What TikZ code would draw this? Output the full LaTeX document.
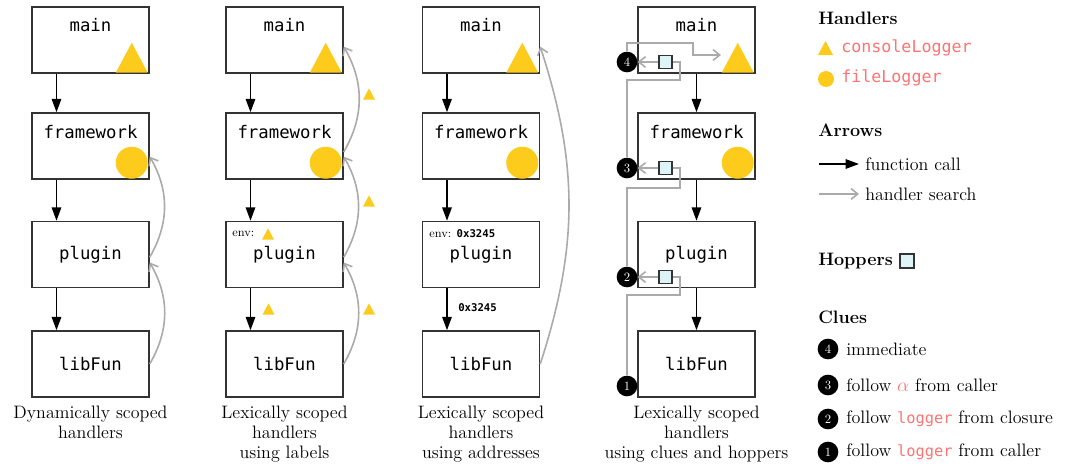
\documentclass[tikz,border=0pt]{standalone}
\usepackage{fontspec}
\setmonofont{DejaVu Sans Mono}
\usetikzlibrary{arrows.meta,calc}

\definecolor{hyellow}{HTML}{FCCB1B}
\definecolor{codepink}{HTML}{FF7373}
\definecolor{searchgray}{HTML}{AAAAAA}
\definecolor{hopfill}{HTML}{DDF3F5}
\definecolor{boxline}{HTML}{333333}

\newcommand\boxfont{\fontsize{13}{15}\selectfont\ttfamily}
\newcommand\legfont{\fontsize{13.5}{15}\selectfont}
\newcommand\addrfont{\fontsize{8}{9}\selectfont\ttfamily\bfseries}
\newcommand\code[2][12.5]{\textcolor{codepink}{\fontsize{#1}{15}\selectfont\texttt{#2}}}

\tikzset{
  fbox/.style={draw=boxline, line width=1.1pt, minimum width=87.75pt, minimum height=49.5pt, inner sep=0pt, font=\boxfont},
  boxtext/.style={inner sep=0pt, font=\boxfont},
  call/.style={-{Triangle[length=10pt,width=7pt]}, line width=1.4pt},
  search/.style={-{Straight Barb[length=5pt,width=8pt]}, draw=searchgray, line width=1.2pt},
  hline/.style={draw=searchgray, line width=1.2pt},
  clue/.style={circle, fill=black, text=white, inner sep=0pt, minimum size=15.5pt, font=\fontsize{9.5}{9.5}\selectfont},
  hopper/.style={draw=boxline, fill=hopfill, line width=0.8pt, inner sep=0pt, minimum size=9.75pt},
  captext/.style={align=center, font=\fontsize{13.5}{15}\selectfont, inner sep=0pt, anchor=north},
  leghead/.style={anchor=west, inner sep=0pt, font=\legfont\bfseries},
  legtext/.style={anchor=west, inner sep=0pt, font=\legfont},
  envtext/.style={anchor=west, inner sep=0pt, font=\fontsize{9}{10}\selectfont},
  handtri/.pic={\fill[hyellow] (-16,0) -- (16,0) -- (0,30) -- cycle;},
}

\begin{document}
\begin{tikzpicture}[x=0.75pt, y=0.75pt]
    \useasboundingbox (0,0) rectangle (1068,-471);

    % the four call stacks
    \foreach \c/\x/\o in {1/90.5/-34, 2/284.5/-34, 3/481/-34, 4/696.5/0} {
        \node[fbox] (main\c) at (\x,-40) {};
        \node[boxtext] at (\x,-25) {main};
        \node[fbox] (fw\c) at (\x,-146) {};
        \node[boxtext] at (\x,-132) {framework};
        \node[fbox] (plug\c) at (\x,-254.5) {plugin};
        \node[fbox] (lib\c) at (\x,-364) {libFun};

        \pic at ($(main\c.south east)+(-18,1)$) {handtri};
        \fill[hyellow] ($(fw\c.south east)+(-18,17)$) circle (16);

        \draw[call] ($(main\c.south)+(\o,0)$) -- ($(fw\c.north)+(\o,0)$);
        \draw[call] ($(fw\c.south)+(\o,0)$) -- ($(plug\c.north)+(\o,0)$);
        \draw[call] ($(plug\c.south)+(\o,0)$) -- ($(lib\c.north)+(\o,0)$);
    }

    % dynamic scope
    \draw[search] (lib1.east) to[out=60, in=-60] ([yshift=-6pt]plug1.east);
    \draw[search] ([yshift=-2pt]plug1.east) to[out=60, in=-60] ([yshift=-8pt]fw1.east);

    % labels
    \draw[search] (lib2.east) to[out=60, in=-60] ([yshift=-6pt]plug2.east);
    \draw[search] ([yshift=-2pt]plug2.east) to[out=60, in=-60] ([yshift=-8pt]fw2.east);
    \draw[search] ([yshift=-4.5pt]fw2.east) to[out=60, in=-60] ([yshift=-5pt]main2.east);
    \pic[scale=0.37] at (369,-99.5) {handtri};
    \pic[scale=0.37] at (369,-206.5) {handtri};
    \pic[scale=0.37] at (369,-314.5) {handtri};
    \pic[scale=0.37] at (268.5,-314.5) {handtri};
    \node[envtext] (env2) at (232,-234) {env:};
    \pic[scale=0.37] at (268,-239.5) {handtri};

    % addresses
    \draw[search] (lib3.east) to[out=72, in=-72] ([yshift=-5pt]main3.east);
    \node[envtext] (env3) at (429,-234) {env: {\addrfont 0x3245}};
    \node[envtext] (addr3) at (458,-308) {\addrfont 0x3245};

    % clues and hoppers
    \node[clue] (c1) at (627,-386) {1};
    \node[clue] (c2) at (627,-277) {2};
    \node[clue] (c3) at (627,-168) {3};
    \node[clue] (c4) at (627,-62) {4};
    \node[hopper] (h2) at (665.5,-277) {};
    \node[hopper] (h3) at (665.5,-168) {};
    \node[hopper] (h4) at (665.5,-62) {};
    \coordinate (tri4) at (721,-55);
    \draw[hline] (c1.north) |- (680,-295) |- (h2.east);
    \draw[search] (h2) -- (c2);
    \draw[hline] (c2.north) |- (680,-188) |- (h3.east);
    \draw[search] (h3) -- (c3);
    \draw[hline] (c3.north) |- (680,-80) |- (h4.east);
    \draw[search] (h4) -- (c4);
    \draw[search] (c4.north) |- (693,-43) |- (tri4);

    % captions
    \node[captext] (cap1) at (90.5,-406) {Dynamically scoped\\handlers};
    \node[captext] (cap2) at (284.5,-406) {Lexically scoped\\handlers\\using labels};
    \node[captext] (cap3) at (481,-406) {Lexically scoped\\handlers\\using addresses};
    \node[captext] (cap4) at (696.5,-406) {Lexically scoped\\handlers\\using clues and hoppers};

    % legend
    \node[leghead] (lhand) at (818,-18) {Handlers};
    \pic[scale=0.47] at (825.5,-55) {handtri};
    \node[legtext] (lcons) at (841,-48) {\code{consoleLogger}};
    \fill[hyellow] (826,-79) circle (8);
    \node[legtext] (lfile) at (841,-78) {\code{fileLogger}};

    \node[leghead] (larrows) at (818,-130) {Arrows};
    \coordinate (lcall0) at (819,-164);
    \node[legtext, inner xsep=4.5pt] (lcall) at (859,-164) {function call};
    \draw[call] (lcall0) -- (lcall.west);
    \coordinate (lsearch0) at (819,-194);
    \node[legtext, inner xsep=4.5pt] (lsearch) at (859,-194) {handler search};
    \draw[search] (lsearch0) -- (lsearch.west);

    \node[leghead] (lhop) at (818,-261) {Hoppers};
    \node[hopper, minimum size=10.5pt] (lhopbox) at (907,-261) {};

    \node[leghead] (lclues) at (818,-317) {Clues};
    \node[clue] (lc4) at (828,-349) {4};
    \node[legtext] (lt4) at (846,-349) {immediate};
    \node[clue] (lc3) at (828,-385) {3};
    \node[legtext] (lt3) at (846,-385) {follow \textcolor{codepink}{$\alpha$} from caller};
    \node[clue] (lc2) at (828,-419) {2};
    \node[legtext] (lt2) at (846,-419) {follow \code[11.5]{logger} from closure};
    \node[clue] (lc1) at (828,-452) {1};
    \node[legtext] (lt1) at (846,-452) {follow \code[11.5]{logger} from caller};
\end{tikzpicture}
\end{document}
